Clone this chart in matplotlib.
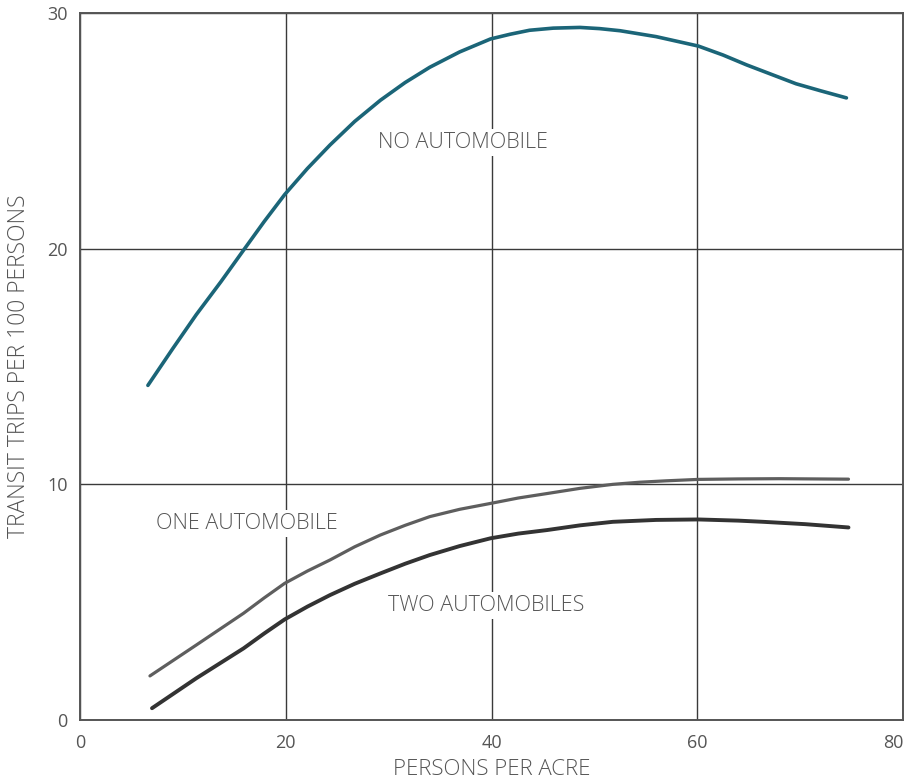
import matplotlib
matplotlib.use("Agg")
import matplotlib.pyplot as plt

# Datos (personas por acre -> viajes por 100 personas)
x_sin = [6.6, 9.0, 11.3, 13.7, 16.0, 17.9, 19.9, 22.1, 24.3, 26.7, 29.2, 31.6, 34.0, 36.9, 39.9, 41.8,
         43.7, 46.0, 48.6, 50.5, 52.5, 56.0, 60.1, 62.5, 64.8, 67.2, 69.6, 72.0, 74.5]
sin_auto = [14.2, 15.75, 17.2, 18.6, 20.0, 21.15, 22.3, 23.4, 24.4, 25.4, 26.3, 27.05, 27.7, 28.35, 28.9, 29.1,
            29.27, 29.36, 29.39, 29.34, 29.25, 29.0, 28.6, 28.22, 27.8, 27.4, 27.0, 26.7, 26.4]

x_uno = [6.8, 11.3, 15.9, 17.9, 19.9, 22.1, 24.3, 26.7, 29.2, 31.6, 34.0, 36.9, 39.9, 42.6, 45.4,
         48.6, 51.8, 54.4, 57.0, 60.1, 64.0, 68.0, 74.7]
un_auto = [1.87, 3.18, 4.53, 5.18, 5.8, 6.32, 6.79, 7.35, 7.85, 8.26, 8.63, 8.94, 9.19, 9.42, 9.61,
           9.83, 10.0, 10.09, 10.15, 10.21, 10.23, 10.24, 10.22]

x_dos = [7.0, 11.3, 15.9, 17.9, 19.9, 22.1, 24.3, 26.7, 29.2, 31.6, 34.0, 36.9, 39.9, 42.6, 45.4,
         48.6, 51.8, 56.0, 60.1, 64.0, 66.4, 70.5, 74.7]
dos_autos = [0.5, 1.77, 3.04, 3.67, 4.27, 4.81, 5.30, 5.78, 6.22, 6.63, 7.0, 7.38, 7.71, 7.91, 8.06,
             8.26, 8.41, 8.49, 8.51, 8.46, 8.41, 8.31, 8.17]

xticks = [0, 20, 40, 60, 80]
yticks = [0, 10, 20, 30]

plt.rcParams['font.family'] = ['Open Sans', 'DejaVu Sans']
gris = "#555555"

fig = plt.figure(figsize=(9.06, 7.82), dpi=100)
ax = fig.add_axes([0.0883, 0.0793, 0.9084, 0.904])

ax.plot(x_sin, sin_auto, color="#1b6578", lw=2.6, zorder=3, solid_capstyle="round")
ax.plot(x_uno, un_auto, color="#5e5e5e", lw=2.3, zorder=3, solid_capstyle="round")
ax.plot(x_dos, dos_autos, color="#333333", lw=2.8, zorder=3, solid_capstyle="round")

ax.set_xlim(0, 80)
ax.set_ylim(0, 30)
ax.set_xticks(xticks)
ax.set_yticks(yticks)
ax.tick_params(length=0, labelsize=13, labelcolor=gris)
ax.tick_params(axis="x", pad=10)
ax.tick_params(axis="y", pad=9)
ax.get_xticklabels()[-1].set_horizontalalignment("right")
ax.grid(True, color="#3a3a3a", lw=1.0)
ax.set_axisbelow(True)
for s in ax.spines.values():
    s.set_color("#555555")
    s.set_linewidth(1.4)

caja = dict(facecolor="white", edgecolor="none", pad=2)
estilo = dict(ha="center", va="center", fontsize=15.5, color=gris, bbox=caja, zorder=2, fontweight="light")
ax.text(37.2, 24.5, "NO AUTOMOBILE", **estilo)
ax.text(16.2, 8.35, "ONE AUTOMOBILE", **estilo)
ax.text(39.5, 4.85, "TWO AUTOMOBILES", **estilo)

ax.set_xlabel("PERSONS PER ACRE", fontsize=16, color=gris, va="center", fontweight="light")
ax.set_ylabel("TRANSIT TRIPS PER 100 PERSONS", fontsize=16.5, color=gris, va="center", fontweight="light")
ax.xaxis.set_label_coords(0.5, -0.07)
ax.yaxis.set_label_coords(-0.074, 0.5)

fig.savefig("out.png", dpi=100)
